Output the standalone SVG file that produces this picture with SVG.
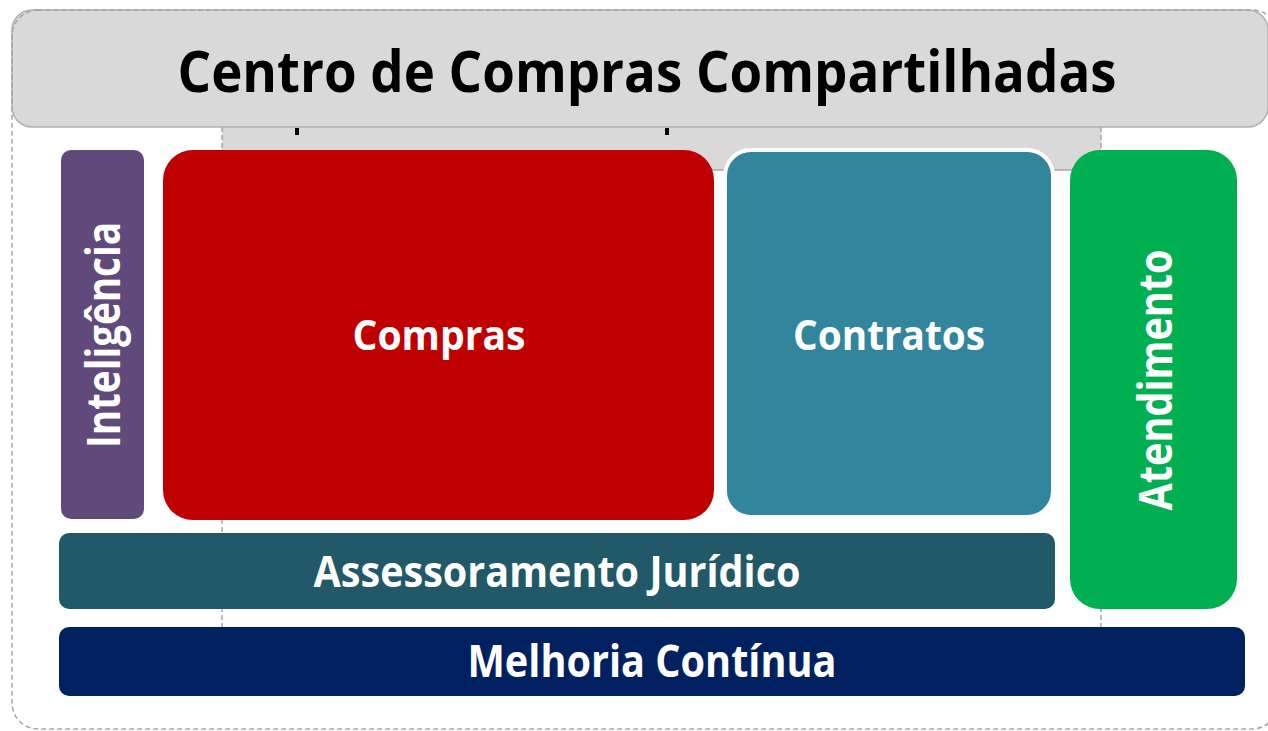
<svg xmlns="http://www.w3.org/2000/svg" width="1268" height="731" viewBox="0 0 1268 731">
<style>
.lbl{font-family:"Open Sans","Liberation Sans",sans-serif;font-weight:bold;fill:#ffffff;text-anchor:middle}
.dash{fill:none;stroke:#a6a6a6;stroke-width:1.5;stroke-dasharray:5 3}
</style>
<rect width="1268" height="731" fill="#ffffff"/>
<g id="connectors">
<rect x="222" y="127" width="879" height="43" fill="#d9d9d9" stroke="none"/>
<line x1="222" y1="170" x2="1101" y2="170" stroke="#a6a6a6" stroke-width="1.5"/>
<line x1="222" y1="127" x2="222" y2="627" class="dash"/>
<line x1="1101" y1="127" x2="1101" y2="627" class="dash"/>
<rect x="295" y="128" width="4" height="7" fill="#000"/>
<rect x="665" y="128" width="4" height="7" fill="#000"/>
</g>
<g id="title">
<rect x="12" y="10" width="1256" height="117" rx="20" fill="#d9d9d9" stroke="#b0b0b0" stroke-width="1.5"/>
<text x="647" y="92" font-family="Open Sans, Liberation Sans, sans-serif" font-weight="bold" font-size="58" text-anchor="middle" fill="#000" textLength="939" lengthAdjust="spacingAndGlyphs">Centro de Compras Compartilhadas</text>
</g>
<g id="frame">
<rect x="12" y="10" width="1266" height="719" rx="26" class="dash"/>
</g>
<g id="inteligencia">
<rect x="61" y="150" width="83" height="369" rx="10" fill="#604a7b"/>
<text class="lbl" font-size="46" transform="translate(120,335) rotate(-90)" textLength="226" lengthAdjust="spacingAndGlyphs">Inteligência</text>
</g>
<g id="compras">
<rect x="163" y="150" width="551" height="370" rx="30" fill="#c00000"/>
<text class="lbl" x="439" y="350" font-size="41" textLength="173" lengthAdjust="spacingAndGlyphs">Compras</text>
</g>
<g id="contratos">
<rect x="725" y="150" width="328" height="367" rx="26" fill="#31859c" stroke="#ffffff" stroke-width="4"/>
<text class="lbl" x="889" y="350" font-size="41" textLength="192" lengthAdjust="spacingAndGlyphs">Contratos</text>
</g>
<g id="atendimento">
<rect x="1070" y="150" width="167" height="459" rx="30" fill="#00b050"/>
<text class="lbl" font-size="47" transform="translate(1172,380) rotate(-90)" textLength="261" lengthAdjust="spacingAndGlyphs">Atendimento</text>
</g>
<g id="assessoramento">
<rect x="59" y="533" width="996" height="76" rx="10" fill="#215968"/>
<text class="lbl" x="557" y="587" font-size="43" textLength="487" lengthAdjust="spacingAndGlyphs">Assessoramento Jurídico</text>
</g>
<g id="melhoria">
<rect x="59" y="627" width="1186" height="69" rx="10" fill="#002060"/>
<text class="lbl" x="652" y="677" font-size="45" textLength="369" lengthAdjust="spacingAndGlyphs">Melhoria Contínua</text>
</g>
</svg>
